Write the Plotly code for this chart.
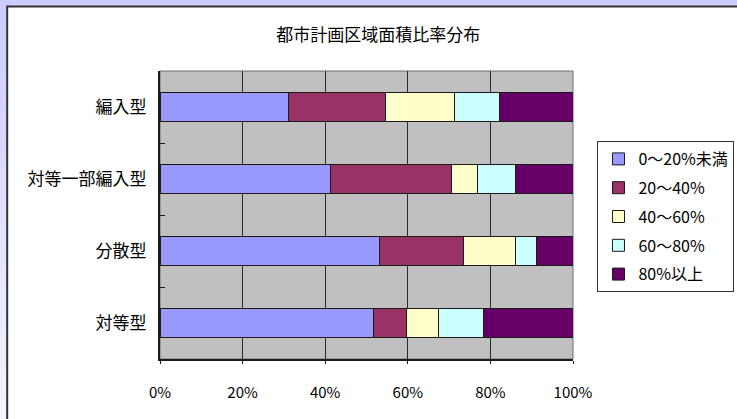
import plotly.graph_objects as go

# Share of city-planning area, by merger type (percent of municipalities)
categories = ["対等型", "分散型", "対等一部編入型", "編入型"]
series_names = ["0～20%未満", "20～40%", "40～60%", "60～80%", "80%以上"]
series_values = [
    [51.7, 53.2, 41.4, 31.1],  # 0～20%未満
    [8.0, 20.2, 29.1, 23.6],   # 20～40%
    [7.7, 12.6, 6.4, 16.5],    # 40～60%
    [10.9, 5.1, 9.2, 11.1],    # 60～80%
    [21.7, 8.9, 13.9, 17.7],   # 80%以上
]
series_colors = ["#9999FF", "#993366", "#FFFFCC", "#CCFFFF", "#660066"]
x_tick_values = [0, 20, 40, 60, 80, 100]
x_tick_labels = ["0%", "20%", "40%", "60%", "80%", "100%"]
title_text = "都市計画区域面積比率分布"

FONT = "Noto Sans CJK JP, Noto Sans, sans-serif"
W, H = 737, 419
L, R, T, B = 160, 163.5, 71, 60
PW, PH = W - L - R, H - T - B


def px_x(p):
    return (p - L) / PW


def px_y(p):
    return (H - B - p) / PH


fig = go.Figure()
for name, vals, col in zip(series_names, series_values, series_colors):
    fig.add_trace(go.Bar(
        y=categories, x=vals, name=name, orientation="h",
        legendgroup=name,
        marker=dict(color=col, line=dict(color="#1a1a1a", width=1)),
        width=0.4,
    ))

shapes = []
# soft gradient strip on the left edge of the page
n = 30
for i in range(n):
    t = i / (n - 1)
    r = int(0xCC + (0xF4 - 0xCC) * t)
    shapes.append(dict(
        type="rect", xref="paper", yref="paper", layer="below",
        x0=px_x(-2), x1=px_x(7.5), y0=px_y(i * H / n), y1=px_y((i + 1) * H / n + 1),
        fillcolor=f"rgb({r},{r},255)", line=dict(width=0),
    ))
# white chart area with dark frame
shapes.append(dict(
    type="rect", xref="paper", yref="paper", layer="below",
    x0=px_x(7), x1=px_x(W + 10), y0=px_y(H + 10), y1=px_y(6.5),
    fillcolor="white", line=dict(color="#333333", width=2),
))
# grey plot area
shapes.append(dict(
    type="rect", xref="paper", yref="paper", layer="below",
    x0=0, x1=1, y0=0, y1=1, fillcolor="#C0C0C0",
    line=dict(color="#6e6e6e", width=1),
))

fig.update_layout(
    width=W, height=H,
    margin=dict(l=L, r=R, t=T, b=B, autoexpand=False),
    paper_bgcolor="#CCCCFF",
    plot_bgcolor="#C0C0C0",
    barmode="stack",
    bargap=0.6,
    font=dict(family=FONT, color="black"),
    title=dict(
        text=title_text, x=px_x(378.5), xref="paper", xanchor="center",
        y=1 - 35 / H, yref="container", yanchor="middle",
        font=dict(size=17, family=FONT, color="black"),
    ),
    xaxis=dict(
        range=[0, 100], tickvals=x_tick_values, ticktext=x_tick_labels,
        showgrid=True, gridcolor="#2a2a2a", gridwidth=1,
        showline=True, linecolor="#1a1a1a", linewidth=2,
        ticks="outside", ticklen=3, tickcolor="#1a1a1a",
        tickfont=dict(size=15, family=FONT, color="black"),
        ticklabelstandoff=16, zeroline=False, fixedrange=True,
    ),
    yaxis=dict(
        categoryorder="array", categoryarray=categories,
        showgrid=False, showline=True, linecolor="#1a1a1a", linewidth=2,
        ticks="inside", tickson="boundaries", ticklen=5, tickcolor="#1a1a1a",
        tickfont=dict(size=17, family=FONT, color="black"),
        ticklabelstandoff=8, fixedrange=True,
    ),
    legend=dict(
        x=px_x(598), y=px_y(141), xanchor="left", yanchor="top",
        traceorder="grouped", bgcolor="white",
        bordercolor="#333333", borderwidth=1,
        font=dict(size=16, family=FONT, color="black"),
        itemwidth=30, tracegroupgap=5,
    ),
    shapes=shapes,
    showlegend=True,
)

fig.write_html("out.html")
